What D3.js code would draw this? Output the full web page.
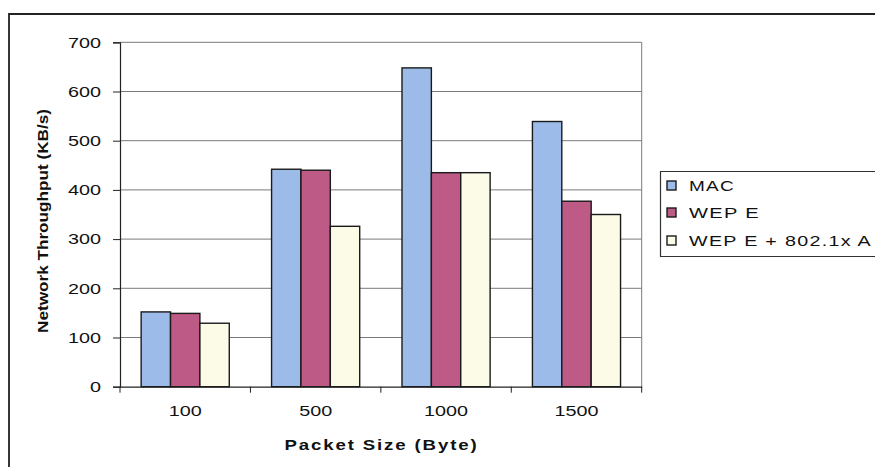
<!DOCTYPE html>
<html>
<head>
<meta charset="utf-8">
<script src="https://cdn.jsdelivr.net/npm/d3@7"></script>
<style>
  html, body { margin: 0; padding: 0; background: #fff; }
  svg { display: block; font-family: "Liberation Sans", Arial, sans-serif; }
</style>
</head>
<body>
<svg id="chart" width="875" height="467"></svg>
<script>
// Packet sizes on the x axis
const categories = ["100", "500", "1000", "1500"];
// Series names (legend order)
const seriesNames = ["MAC", "WEP E", "WEP E + 802.1x A"];
// Throughput in KB/s per packet size
const macValues = [152, 442, 648, 539];
const wepValues = [149, 440, 435, 377];
const wepAuthValues = [129, 326, 435, 350];
// Y axis ticks
const yTicks = [0, 100, 200, 300, 400, 500, 600, 700];

const seriesValues = [macValues, wepValues, wepAuthValues];
const colors = ["#9dbbe8", "#bd5a86", "#fbfbe8"];

const svg = d3.select("#chart");

const plot = { left: 120, right: 641.7, top: 42.3, bottom: 386.7 };

const x0 = d3.scaleBand().domain(categories).range([plot.left, plot.right]).padding(0);
const x1 = d3.scaleBand().domain(seriesNames).range([0, x0.bandwidth()])
  .paddingInner(0).paddingOuter(0.72);
const y = d3.scaleLinear().domain([0, 700]).range([plot.bottom, plot.top]);

// Wide, stretched labels: each character gets a fixed advance
const charW = 11;

// Outer frame (extends beyond the right/bottom of the view)
svg.append("path")
  .attr("d", `M9,470 L9,14 L880,14`)
  .attr("fill", "none").attr("stroke", "#222").attr("stroke-width", 1.8);

// Horizontal gridlines
svg.append("g").selectAll("line").data(yTicks.filter(d => d > 0)).join("line")
  .attr("x1", plot.left).attr("x2", plot.right)
  .attr("y1", d => y(d)).attr("y2", d => y(d))
  .attr("stroke", "#7a7a7a").attr("stroke-width", 1);

// Right edge of plot area
svg.append("line")
  .attr("x1", plot.right).attr("x2", plot.right)
  .attr("y1", plot.top).attr("y2", plot.bottom)
  .attr("stroke", "#7a7a7a").attr("stroke-width", 1);

// Bars
const groups = svg.append("g").selectAll("g").data(categories).join("g")
  .attr("transform", d => `translate(${x0(d)},0)`);
groups.selectAll("rect")
  .data((c, i) => seriesNames.map((s, j) => ({ s, j, v: seriesValues[j][i] })))
  .join("rect")
  .attr("x", d => x1(d.s))
  .attr("width", x1.bandwidth())
  .attr("y", d => y(d.v))
  .attr("height", d => y(0) - y(d.v))
  .attr("fill", d => colors[d.j])
  .attr("stroke", "#1a1a1a").attr("stroke-width", 1.4);

// Y axis
const yAxis = d3.axisLeft(y).tickValues(yTicks).tickSize(7).tickPadding(12).tickFormat(d3.format("d"));
const gy = svg.append("g").attr("transform", `translate(${plot.left},0)`).call(yAxis);
gy.select(".domain").attr("stroke", "#222").attr("stroke-width", 1.2);
gy.selectAll(".tick line").attr("stroke", "#222");
gy.selectAll(".tick text").attr("font-size", 15).attr("fill", "#111")
  .attr("font-family", "Liberation Sans, Arial, sans-serif")
  .attr("textLength", d => String(d).length * charW).attr("lengthAdjust", "spacingAndGlyphs");

// X axis with ticks at category boundaries
const xAxis = d3.axisBottom(x0).tickSize(0).tickPadding(19);
const gx = svg.append("g").attr("transform", `translate(0,${plot.bottom})`).call(xAxis);
gx.select(".domain").attr("stroke", "#222").attr("stroke-width", 1.2);
gx.selectAll(".tick text").attr("font-size", 15).attr("fill", "#111")
  .attr("font-family", "Liberation Sans, Arial, sans-serif")
  .attr("textLength", d => d.length * charW).attr("lengthAdjust", "spacingAndGlyphs");
gx.append("g").selectAll("line")
  .data(categories.map(c => x0(c)).concat([plot.right]))
  .join("line")
  .attr("x1", d => d).attr("x2", d => d)
  .attr("y1", 0).attr("y2", 6)
  .attr("stroke", "#222");

// Axis titles
svg.append("text")
  .attr("x", 381.5).attr("y", 450)
  .attr("text-anchor", "middle")
  .attr("font-size", 15).attr("font-weight", "bold").attr("fill", "#111")
  .attr("letter-spacing", 1.5)
  .attr("textLength", 194).attr("lengthAdjust", "spacingAndGlyphs")
  .text("Packet Size (Byte)");

svg.append("text")
  .attr("transform", "translate(48,221) rotate(-90)")
  .attr("text-anchor", "middle")
  .attr("font-size", 15).attr("font-weight", "bold").attr("fill", "#111")
  .attr("textLength", 224).attr("lengthAdjust", "spacingAndGlyphs")
  .text("Network Throughput (KB/s)");

// Legend
const legend = svg.append("g");
legend.append("path")
  .attr("d", "M880,171.5 L660.5,171.5 L660.5,256.5 L880,256.5")
  .attr("fill", "#fff").attr("stroke", "#333").attr("stroke-width", 1.2);
const rowY = [185.5, 212.5, 240.5];
const labelLen = [46, 71, 183];
const items = legend.selectAll("g.item").data(seriesNames).join("g").attr("class", "item");
items.append("rect")
  .attr("x", 667).attr("y", (d, i) => rowY[i] - 4.5)
  .attr("width", 9).attr("height", 9)
  .attr("fill", (d, i) => colors[i])
  .attr("stroke", "#1a1a1a").attr("stroke-width", 1.4);
items.append("text")
  .attr("x", 689).attr("y", (d, i) => rowY[i] + 5.5)
  .attr("font-size", 15).attr("fill", "#111")
  .attr("letter-spacing", 1)
  .attr("textLength", (d, i) => labelLen[i]).attr("lengthAdjust", "spacingAndGlyphs")
  .text(d => d);
</script>
</body>
</html>
